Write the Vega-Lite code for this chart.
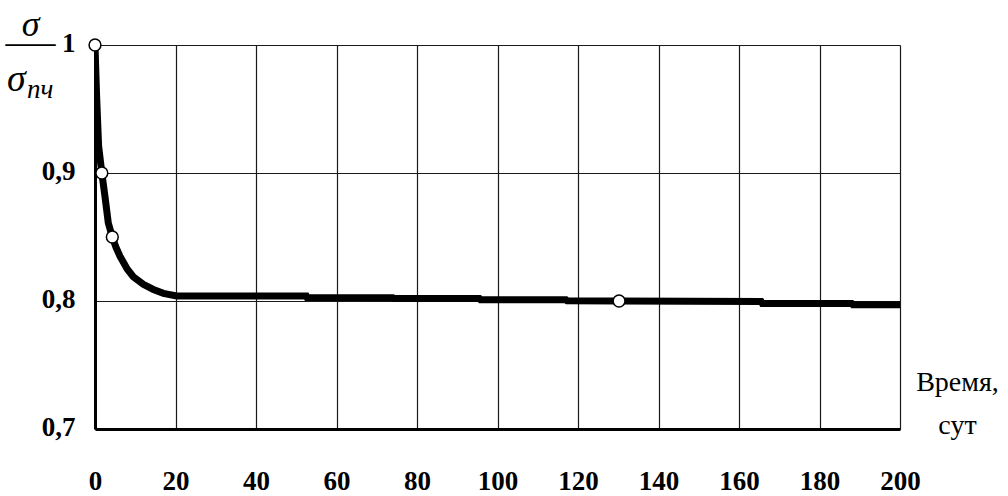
{
  "$schema": "https://vega.github.io/schema/vega-lite/v6.json",
  "autosize": "none",
  "width": 805,
  "height": 384,
  "padding": {"left": 95, "top": 45, "right": 108, "bottom": 67},
  "background": "#ffffff",
  "title": {
    "text": "σ",
    "subtitle": "\u2800пч",
    "anchor": "start",
    "frame": "group",
    "orient": "top",
    "font": "Liberation Serif",
    "fontStyle": "italic",
    "fontWeight": "normal",
    "fontSize": 38,
    "color": "#000000",
    "subtitleFont": "Liberation Serif",
    "subtitleFontStyle": "italic",
    "subtitleFontSize": 27,
    "subtitleColor": "#000000",
    "subtitlePadding": -22,
    "dx": -88,
    "offset": -97
  },
  "datasets": {
    "curve": [
      {"t": 0, "r": 1.0},
      {"t": 0.4, "r": 0.96},
      {"t": 0.9, "r": 0.921},
      {"t": 1.7, "r": 0.9},
      {"t": 2.5, "r": 0.881},
      {"t": 3.3, "r": 0.861},
      {"t": 4.3, "r": 0.85},
      {"t": 5.2, "r": 0.842},
      {"t": 6.2, "r": 0.835},
      {"t": 8.0, "r": 0.825},
      {"t": 9.5, "r": 0.819},
      {"t": 12.0, "r": 0.813},
      {"t": 14.5, "r": 0.809},
      {"t": 17.0, "r": 0.806},
      {"t": 20.3, "r": 0.804},
      {"t": 30, "r": 0.804},
      {"t": 52.5, "r": 0.804},
      {"t": 52.7, "r": 0.8027},
      {"t": 74, "r": 0.8025},
      {"t": 74.3, "r": 0.802},
      {"t": 95.5, "r": 0.802},
      {"t": 95.8, "r": 0.801},
      {"t": 117, "r": 0.801},
      {"t": 117.3, "r": 0.8002},
      {"t": 130, "r": 0.8},
      {"t": 165.5, "r": 0.7996},
      {"t": 165.8, "r": 0.798},
      {"t": 188, "r": 0.798},
      {"t": 188.3, "r": 0.797},
      {"t": 200, "r": 0.797}
    ],
    "pts": [
      {"t": 0, "r": 1.0},
      {"t": 1.7, "r": 0.9},
      {"t": 4.3, "r": 0.85},
      {"t": 130.2, "r": 0.8}
    ]
  },
  "layer": [
    {
      "data": {"name": "curve"},
      "mark": {"type": "line", "color": "#000000", "strokeWidth": 7, "clip": true},
      "encoding": {
        "x": {
          "field": "t",
          "type": "quantitative",
          "scale": {"domain": [0, 200], "nice": false, "zero": false},
          "axis": {
            "values": [0, 20, 40, 60, 80, 100, 120, 140, 160, 180, 200],
            "title": ["Время,", "сут"],
            "titleFont": "Liberation Serif",
            "titleFontWeight": "normal",
            "titleFontSize": 28,
            "titleColor": "#000000",
            "titleAlign": "center",
            "titleAnchor": null,
            "titleAngle": 0,
            "titleBaseline": "alphabetic",
            "titleX": 862,
            "titleY": -39,
            "titleLineHeight": 43
          }
        },
        "y": {
          "field": "r",
          "type": "quantitative",
          "scale": {"domain": [0.7, 1.0], "nice": false, "zero": false},
          "axis": {
            "values": [0.7, 0.8, 0.9, 1.0],
            "labelExpr": "datum.value >= 0.999 ? '1' : replace(format(datum.value, '.1f'), '.', ',')",
            "labelOffset": -2,
            "title": ["σ", "—–"],
            "titleFont": "Liberation Serif",
            "titleFontStyle": "italic",
            "titleFontWeight": "normal",
            "titleFontSize": 36,
            "titleColor": "#000000",
            "titleAngle": 0,
            "titleAlign": "center",
            "titleAnchor": null,
            "titleBaseline": "alphabetic",
            "titleX": -65,
            "titleY": -10,
            "titleLineHeight": 18
          }
        }
      }
    },
    {
      "data": {"name": "pts"},
      "mark": {"type": "point", "shape": "circle", "filled": true, "fill": "#ffffff", "stroke": "#000000", "strokeWidth": 1.5, "size": 140, "opacity": 1, "clip": false},
      "encoding": {
        "x": {"field": "t", "type": "quantitative"},
        "y": {"field": "r", "type": "quantitative"}
      }
    }
  ],
  "config": {
    "view": {"stroke": null},
    "axis": {
      "domain": true,
      "domainColor": "#000000",
      "domainWidth": 3,
      "ticks": false,
      "grid": true,
      "gridColor": "#1a1a1a",
      "gridWidth": 1.2,
      "gridOpacity": 1,
      "labelFont": "Liberation Serif",
      "labelFontWeight": "bold",
      "labelFontSize": 27,
      "labelColor": "#000000",
      "labelFlush": false,
      "labelOverlap": false,
      "labelBound": false
    },
    "axisX": {"labelPadding": 39},
    "axisY": {"labelPadding": 20}
  }
}
